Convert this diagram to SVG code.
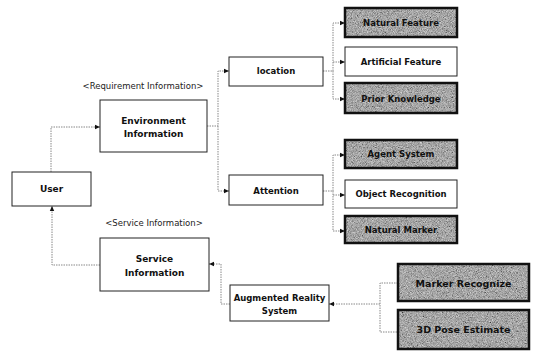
<svg xmlns="http://www.w3.org/2000/svg" width="534" height="351" viewBox="0 0 534 351">
<style>
.box{fill:#fff;stroke:#222;stroke-width:1}
.sh{fill:#a6a6a6}
.shb{fill:none;stroke:#111;stroke-width:2.5}
.t{font-family:"DejaVu Sans",Verdana,sans-serif;font-weight:bold;font-size:9px;fill:#111;text-anchor:middle}
.ts{font-family:"DejaVu Sans",Verdana,sans-serif;font-weight:bold;font-size:8.5px;fill:#111;text-anchor:middle}
.tl{font-family:"DejaVu Sans",Verdana,sans-serif;font-weight:bold;font-size:9.5px;fill:#111;text-anchor:middle}
.lab{font-family:"DejaVu Sans",Verdana,sans-serif;font-size:8.5px;fill:#222;text-anchor:middle}
.c{fill:none;stroke:#888;stroke-width:1;stroke-dasharray:1.5,1}
</style>
<defs>
<marker id="ah" markerWidth="6" markerHeight="6" refX="5" refY="3" orient="auto" markerUnits="userSpaceOnUse">
<path d="M0,0.8 L5,3 L0,5.2 Z" fill="#111"/>
</marker>
<filter id="grain" x="0" y="0" width="100%" height="100%">
<feTurbulence type="fractalNoise" baseFrequency="1.2" numOctaves="2" seed="4" result="n"/>
<feColorMatrix in="n" type="matrix" values="0.33 0.33 0.33 0 0 0.33 0.33 0.33 0 0 0.33 0.33 0.33 0 0 0 0 0 0 1" result="g"/>
<feComposite in="g" in2="SourceGraphic" operator="arithmetic" k1="0" k2="1.3" k3="1" k4="-0.65" result="m"/>
<feComposite in="m" in2="SourceAlpha" operator="in"/>
</filter>
</defs>
<rect width="534" height="351" fill="#fff"/>

<text class="lab" x="143" y="89">&lt;Requirement Information&gt;</text>
<text class="lab" x="154" y="226">&lt;Service Information&gt;</text>

<g id="connectors">
<path class="c" d="M51 172 V127 H100" marker-end="url(#ah)"/>
<path class="c" d="M100 265 H52 V206" marker-end="url(#ah)"/>
<path class="c" d="M207 126 H218 V71 H229" marker-end="url(#ah)"/>
<path class="c" d="M218 126 V191 H229" marker-end="url(#ah)"/>
<path class="c" d="M323 71 H333 V23 H345" marker-end="url(#ah)"/>
<path class="c" d="M333 62 H345" marker-end="url(#ah)"/>
<path class="c" d="M333 71 V99 H345" marker-end="url(#ah)"/>
<path class="c" d="M323 191 H333 V155 H345" marker-end="url(#ah)"/>
<path class="c" d="M333 195 H345" marker-end="url(#ah)"/>
<path class="c" d="M333 191 V231 H345" marker-end="url(#ah)"/>
<path class="c" d="M230 304 H221 V264 H209" marker-end="url(#ah)"/>
<path class="c" d="M398 283 H380 V332 H398"/>
<path class="c" d="M380 304 H329" marker-end="url(#ah)"/>
</g>

<g id="user">
<rect class="box" x="12" y="172" width="79" height="34"/>
<text class="t" x="51.5" y="192">User</text>
</g>
<g id="env-info">
<rect class="box" x="100" y="100" width="107" height="52"/>
<text class="t" x="153.5" y="124">Environment</text>
<text class="t" x="153.5" y="137">Information</text>
</g>
<g id="service-info">
<rect class="box" x="100" y="238" width="109" height="53"/>
<text class="t" x="154.5" y="262">Service</text>
<text class="t" x="154.5" y="276">Information</text>
</g>
<g id="location">
<rect class="box" x="229" y="57" width="94" height="29"/>
<text class="ts" x="276" y="74">location</text>
</g>
<g id="attention">
<rect class="box" x="229" y="175" width="94" height="30"/>
<text class="ts" x="276" y="194">Attention</text>
</g>
<g id="ar-system">
<rect class="box" x="230" y="285" width="99" height="36"/>
<text class="ts" x="279.5" y="301">Augmented Reality</text>
<text class="ts" x="279.5" y="314">System</text>
</g>
<g id="natural-feature">
<rect class="sh" x="345" y="8" width="112" height="29" filter="url(#grain)"/>
<rect class="shb" x="345" y="8" width="112" height="29"/>
<text class="ts" x="401" y="26">Natural Feature</text>
</g>
<g id="artificial-feature">
<rect class="box" x="345" y="47" width="112" height="29"/>
<text class="ts" x="401" y="65">Artificial Feature</text>
</g>
<g id="prior-knowledge">
<rect class="sh" x="345" y="83" width="112" height="30" filter="url(#grain)"/>
<rect class="shb" x="345" y="83" width="112" height="30"/>
<text class="ts" x="401" y="101.5">Prior Knowledge</text>
</g>
<g id="agent-system">
<rect class="sh" x="345" y="140" width="112" height="28" filter="url(#grain)"/>
<rect class="shb" x="345" y="140" width="112" height="28"/>
<text class="ts" x="401" y="157">Agent System</text>
</g>
<g id="object-recognition">
<rect class="box" x="345" y="180" width="112" height="28"/>
<text class="ts" x="401" y="197">Object Recognition</text>
</g>
<g id="natural-marker">
<rect class="sh" x="345" y="216" width="112" height="27" filter="url(#grain)"/>
<rect class="shb" x="345" y="216" width="112" height="27"/>
<text class="ts" x="401" y="232.5">Natural Marker</text>
</g>
<g id="marker-recognize">
<rect class="sh" x="398" y="264" width="131" height="37" filter="url(#grain)"/>
<rect class="shb" x="398" y="264" width="131" height="37"/>
<text class="tl" x="463.5" y="286.5">Marker Recognize</text>
</g>
<g id="pose-estimate">
<rect class="sh" x="398" y="310" width="131" height="39" filter="url(#grain)"/>
<rect class="shb" x="398" y="310" width="131" height="39"/>
<text class="tl" x="463.5" y="333">3D Pose Estimate</text>
</g>
</svg>
